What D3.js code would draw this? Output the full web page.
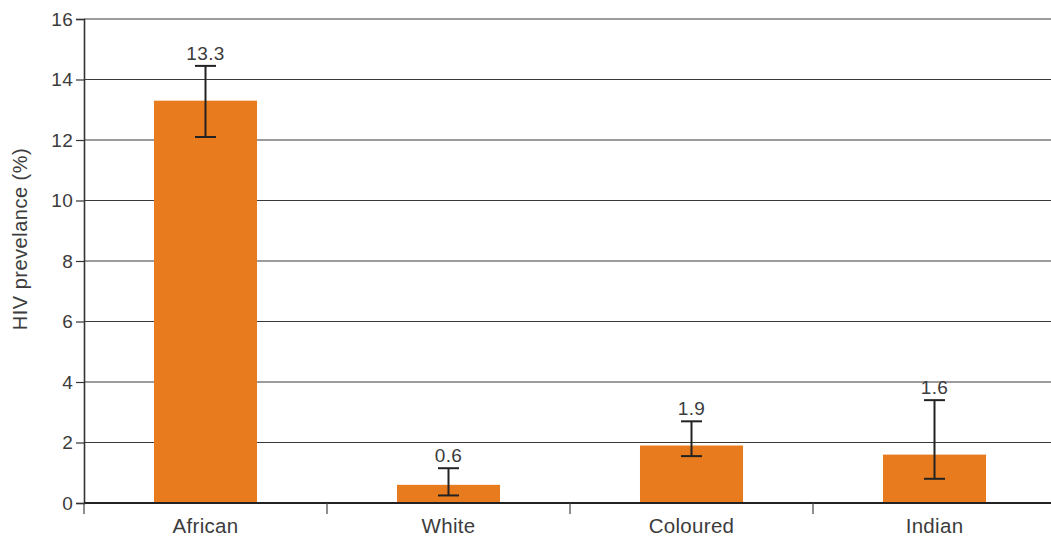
<!DOCTYPE html>
<html>
<head>
<meta charset="utf-8">
<script src="https://cdn.jsdelivr.net/npm/d3@7"></script>
<style>
  html, body { margin: 0; padding: 0; background: #fff; }
  svg { display: block; }
  text { font-family: "Liberation Sans", Arial, sans-serif; fill: #3c3c3c; }
</style>
</head>
<body>
<svg id="chart" width="1051" height="538"></svg>
<script>
// HIV prevalence by population group, with confidence intervals
const categories = ["African", "White", "Coloured", "Indian"];
const prevalence = [13.3, 0.6, 1.9, 1.6];
const ciLower = [12.1, 0.25, 1.55, 0.8];
const ciUpper = [14.45, 1.15, 2.7, 3.4];
const yTicks = [0, 2, 4, 6, 8, 10, 12, 14, 16];

const svg = d3.select("#chart");
const plotLeft = 84, plotRight = 1056, plotTop = 19, plotBottom = 503;

const x = d3.scaleBand().domain(categories).range([plotLeft, plotRight]).paddingInner(0.576).paddingOuter(0.288);
const xTicks = d3.scaleBand().domain(categories).range([plotLeft, plotRight]);
const y = d3.scaleLinear().domain([0, 16]).range([plotBottom, plotTop]);

// horizontal gridlines
svg.append("g")
  .selectAll("line")
  .data(yTicks.filter(d => d > 0))
  .join("line")
  .attr("x1", plotLeft).attr("x2", 1051)
  .attr("y1", d => y(d)).attr("y2", d => y(d))
  .attr("stroke", "#3a3a3a").attr("stroke-width", 1.2);

// y axis
const yAxis = svg.append("g")
  .attr("transform", `translate(${plotLeft},0)`)
  .call(d3.axisLeft(y).tickValues(yTicks).tickSize(8).tickPadding(3));
yAxis.select(".domain").attr("stroke", "#333").attr("stroke-width", 1.6);
yAxis.selectAll(".tick line").attr("stroke", "#333").attr("stroke-width", 1.2);
yAxis.selectAll(".tick text")
  .attr("font-size", 19).attr("fill", "#3c3c3c")
  .attr("letter-spacing", 0.3)
  .style("font-family", "'Liberation Sans', Arial, sans-serif");

// bars
svg.append("g")
  .selectAll("rect")
  .data(categories)
  .join("rect")
  .attr("x", d => x(d))
  .attr("width", x.bandwidth())
  .attr("y", (d, i) => y(prevalence[i]))
  .attr("height", (d, i) => y(0) - y(prevalence[i]))
  .attr("fill", "#e87b1e");

// x axis baseline and category separators
svg.append("line")
  .attr("x1", plotLeft).attr("x2", 1051)
  .attr("y1", plotBottom).attr("y2", plotBottom)
  .attr("stroke", "#222").attr("stroke-width", 2.2);

svg.append("g")
  .selectAll("line")
  .data(categories)
  .join("line")
  .attr("x1", d => xTicks(d)).attr("x2", d => xTicks(d))
  .attr("y1", plotBottom).attr("y2", plotBottom + 11)
  .attr("stroke", "#444").attr("stroke-width", 1.2);

// category labels
svg.append("g")
  .selectAll("text")
  .data(categories)
  .join("text")
  .attr("x", d => x(d) + x.bandwidth() / 2)
  .attr("y", 533)
  .attr("text-anchor", "middle")
  .attr("font-size", 20.5)
  .attr("letter-spacing", 0.3)
  .text(d => d);

// error bars
const cap = 10.5;
const eb = svg.append("g").attr("stroke", "#222").attr("stroke-width", 2);
categories.forEach((c, i) => {
  const cx = x(c) + x.bandwidth() / 2;
  eb.append("line").attr("x1", cx).attr("x2", cx).attr("y1", y(ciLower[i])).attr("y2", y(ciUpper[i]));
  eb.append("line").attr("x1", cx - cap).attr("x2", cx + cap).attr("y1", y(ciUpper[i])).attr("y2", y(ciUpper[i]));
  eb.append("line").attr("x1", cx - cap).attr("x2", cx + cap).attr("y1", y(ciLower[i])).attr("y2", y(ciLower[i]));
});

// value labels
svg.append("g")
  .selectAll("text")
  .data(categories)
  .join("text")
  .attr("x", d => x(d) + x.bandwidth() / 2)
  .attr("y", (d, i) => y(ciUpper[i]) - 6)
  .attr("text-anchor", "middle")
  .attr("font-size", 19)
  .attr("letter-spacing", 0.4)
  .text((d, i) => prevalence[i].toFixed(1));

// y axis title
svg.append("text")
  .attr("transform", "translate(27,239) rotate(-90)")
  .attr("text-anchor", "middle")
  .attr("font-size", 20)
  .attr("letter-spacing", 0.5)
  .text("HIV prevelance (%)");
</script>
</body>
</html>
